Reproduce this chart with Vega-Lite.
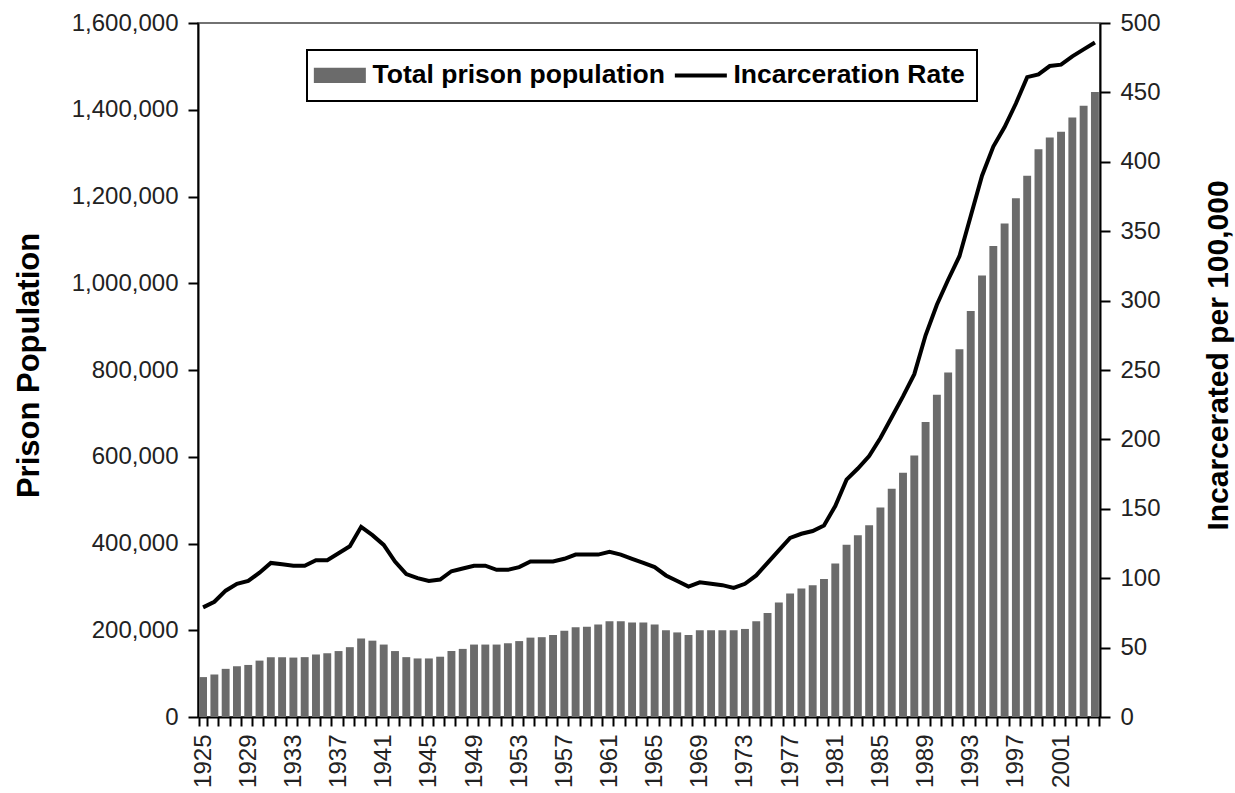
{
  "$schema": "https://vega.github.io/schema/vega-lite/v6.json",
  "width": 902,
  "height": 694,
  "autosize": {"type": "none"},
  "padding": {"left": 198, "top": 23, "right": 135, "bottom": 76},
  "background": "white",
  "data": {
    "values": [
      {"year": 1925, "population": 92000, "rate": 79},
      {"year": 1926, "population": 98000, "rate": 83},
      {"year": 1927, "population": 111000, "rate": 91},
      {"year": 1928, "population": 117000, "rate": 96},
      {"year": 1929, "population": 120000, "rate": 98},
      {"year": 1930, "population": 130000, "rate": 104},
      {"year": 1931, "population": 138000, "rate": 111},
      {"year": 1932, "population": 138000, "rate": 110},
      {"year": 1933, "population": 137000, "rate": 109},
      {"year": 1934, "population": 138000, "rate": 109},
      {"year": 1935, "population": 144000, "rate": 113},
      {"year": 1936, "population": 147000, "rate": 113},
      {"year": 1937, "population": 152000, "rate": 118},
      {"year": 1938, "population": 161000, "rate": 123},
      {"year": 1939, "population": 181000, "rate": 137},
      {"year": 1940, "population": 176000, "rate": 131},
      {"year": 1941, "population": 167000, "rate": 124},
      {"year": 1942, "population": 152000, "rate": 112},
      {"year": 1943, "population": 138000, "rate": 103},
      {"year": 1944, "population": 135000, "rate": 100},
      {"year": 1945, "population": 135000, "rate": 98},
      {"year": 1946, "population": 139000, "rate": 99},
      {"year": 1947, "population": 152000, "rate": 105},
      {"year": 1948, "population": 157000, "rate": 107},
      {"year": 1949, "population": 167000, "rate": 109},
      {"year": 1950, "population": 167000, "rate": 109},
      {"year": 1951, "population": 167000, "rate": 106},
      {"year": 1952, "population": 170000, "rate": 106},
      {"year": 1953, "population": 175000, "rate": 108},
      {"year": 1954, "population": 183000, "rate": 112},
      {"year": 1955, "population": 184000, "rate": 112},
      {"year": 1956, "population": 189000, "rate": 112},
      {"year": 1957, "population": 199000, "rate": 114},
      {"year": 1958, "population": 207000, "rate": 117},
      {"year": 1959, "population": 208000, "rate": 117},
      {"year": 1960, "population": 213000, "rate": 117},
      {"year": 1961, "population": 221000, "rate": 119},
      {"year": 1962, "population": 221000, "rate": 117},
      {"year": 1963, "population": 218000, "rate": 114},
      {"year": 1964, "population": 218000, "rate": 111},
      {"year": 1965, "population": 213000, "rate": 108},
      {"year": 1966, "population": 200000, "rate": 102},
      {"year": 1967, "population": 195000, "rate": 98},
      {"year": 1968, "population": 189000, "rate": 94},
      {"year": 1969, "population": 200000, "rate": 97},
      {"year": 1970, "population": 200000, "rate": 96},
      {"year": 1971, "population": 200000, "rate": 95},
      {"year": 1972, "population": 200000, "rate": 93},
      {"year": 1973, "population": 203000, "rate": 96},
      {"year": 1974, "population": 221000, "rate": 102},
      {"year": 1975, "population": 240000, "rate": 111},
      {"year": 1976, "population": 264000, "rate": 120},
      {"year": 1977, "population": 285000, "rate": 129},
      {"year": 1978, "population": 296000, "rate": 132},
      {"year": 1979, "population": 304000, "rate": 134},
      {"year": 1980, "population": 318000, "rate": 138},
      {"year": 1981, "population": 354000, "rate": 152},
      {"year": 1982, "population": 397000, "rate": 171},
      {"year": 1983, "population": 419000, "rate": 179},
      {"year": 1984, "population": 442000, "rate": 188},
      {"year": 1985, "population": 483000, "rate": 201},
      {"year": 1986, "population": 526000, "rate": 216},
      {"year": 1987, "population": 563000, "rate": 231},
      {"year": 1988, "population": 603000, "rate": 247},
      {"year": 1989, "population": 680000, "rate": 275},
      {"year": 1990, "population": 743000, "rate": 297},
      {"year": 1991, "population": 794000, "rate": 315},
      {"year": 1992, "population": 848000, "rate": 332},
      {"year": 1993, "population": 936000, "rate": 361},
      {"year": 1994, "population": 1018000, "rate": 390},
      {"year": 1995, "population": 1086000, "rate": 411},
      {"year": 1996, "population": 1138000, "rate": 425},
      {"year": 1997, "population": 1196000, "rate": 442},
      {"year": 1998, "population": 1248000, "rate": 461},
      {"year": 1999, "population": 1309000, "rate": 463},
      {"year": 2000, "population": 1336000, "rate": 469},
      {"year": 2001, "population": 1349000, "rate": 470},
      {"year": 2002, "population": 1382000, "rate": 476},
      {"year": 2003, "population": 1409000, "rate": 481},
      {"year": 2004, "population": 1441000, "rate": 486}
    ]
  },
  "encoding": {
    "x": {
      "field": "year",
      "type": "ordinal",
      "scale": {"type": "band", "paddingInner": 0.3, "paddingOuter": 0.1},
      "axis": {
        "title": null,
        "labelAngle": 270,
        "labelExpr": "(datum.value - 1925) % 4 === 0 ? datum.label : ''",
        "tickBand": "extent",
        "tickSize": 9,
        "tickWidth": 2,
        "tickColor": "black",
        "domainColor": "black",
        "domainWidth": 2,
        "labelFont": "Liberation Sans",
        "labelFontSize": 24,
        "labelColor": "#222222",
        "labelPadding": 8,
        "labelOverlap": false
      }
    }
  },
  "layer": [
    {
      "mark": {"type": "bar"},
      "encoding": {
        "y": {
          "field": "population",
          "type": "quantitative",
          "scale": {"domain": [0, 1600000], "nice": false},
          "axis": {
            "orient": "left",
            "values": [0, 200000, 400000, 600000, 800000, 1000000, 1200000, 1400000, 1600000],
            "format": ",.0f",
            "grid": false,
            "title": "Prison Population",
            "titleFont": "Liberation Sans",
            "titleFontSize": 31,
            "titleFontWeight": "bold",
            "titleColor": "black",
            "titleAngle": 270,
            "titleAlign": "center",
            "titleBaseline": "alphabetic",
            "titleX": -160,
            "titleY": 342,
            "tickSize": 10,
            "tickWidth": 2,
            "tickColor": "black",
            "domainColor": "black",
            "domainWidth": 2,
            "labelFont": "Liberation Sans",
            "labelFontSize": 24,
            "labelColor": "#222222",
            "labelPadding": 10
          }
        },
        "color": {
          "datum": "Total prison population",
          "type": "nominal",
          "scale": {"domain": ["Total prison population", "Incarceration Rate"], "range": ["#6b6b6b", "black"]},
          "legend": {
            "title": null,
            "orient": "none",
            "direction": "horizontal",
            "legendX": 109,
            "legendY": 27,
            "padding": 12,
            "fillColor": "white",
            "strokeColor": "black",
            "symbolSize": 256,
            "labelFont": "Liberation Sans",
            "labelFontSize": 26.5,
            "labelFontWeight": "bold",
            "labelColor": "black",
            "labelLimit": 0,
            "labelOffset": 27,
            "columnPadding": 1,
            "encode": {
              "legend": {"update": {"strokeWidth": {"value": 2}}},
              "symbols": {
                "update": {
                  "shape": {"signal": "datum.value === 'Incarceration Rate' ? 'M-2.3,0H4.2' : 'M-2.3,-0.95H4.2V0.95H-2.3Z'"},
                  "fill": {"signal": "datum.value === 'Incarceration Rate' ? 'transparent' : '#6b6b6b'"},
                  "stroke": {"signal": "datum.value === 'Incarceration Rate' ? 'black' : '#6b6b6b'"},
                  "strokeWidth": {"signal": "datum.value === 'Incarceration Rate' ? 4 : 0"},
                  "size": {"value": 256},
                  "opacity": {"value": 1}
                }
              }
            }
          }
        }
      }
    },
    {
      "mark": {"type": "line", "strokeWidth": 4},
      "encoding": {
        "y": {
          "field": "rate",
          "type": "quantitative",
          "scale": {"domain": [0, 500], "nice": false},
          "axis": {
            "orient": "right",
            "values": [0, 50, 100, 150, 200, 250, 300, 350, 400, 450, 500],
            "grid": false,
            "title": "Incarcerated per 100,000",
            "titleFont": "Liberation Sans",
            "titleFontSize": 30,
            "titleFontWeight": "bold",
            "titleColor": "black",
            "titleAngle": 270,
            "titleAlign": "center",
            "titleBaseline": "alphabetic",
            "titleX": 127,
            "titleY": 332,
            "tickSize": 10,
            "tickWidth": 2,
            "tickColor": "black",
            "domainColor": "black",
            "domainWidth": 2,
            "labelFont": "Liberation Sans",
            "labelFontSize": 24,
            "labelColor": "#222222",
            "labelPadding": 10
          }
        },
        "color": {"datum": "Incarceration Rate", "type": "nominal"}
      }
    }
  ],
  "resolve": {"scale": {"y": "independent"}},
  "config": {
    "view": {"stroke": "#444444", "strokeWidth": 1.5},
    "axis": {"grid": false}
  }
}
